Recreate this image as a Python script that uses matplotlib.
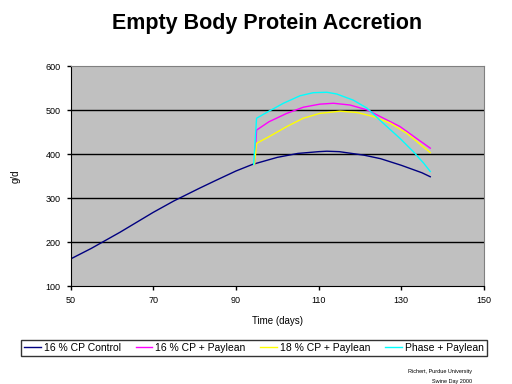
import numpy as np
import matplotlib.pyplot as plt

plt.rcParams['font.family'] = ['Liberation Sans', 'DejaVu Sans']

# control diet, whole period
ctrl_day = [50, 55, 62, 70, 75, 81, 85, 90, 94, 100, 105, 110, 112, 115, 121, 125, 130, 135, 137]
ctrl_val = [162, 186, 223, 268, 294, 322, 340, 362, 377, 393, 402, 406, 407, 406, 398, 390, 375, 358, 349]

# paylean groups, from day 94
mag_day = [94.5, 95, 98, 102.3, 106.3, 110.3, 113.6, 117.6, 121.7, 125.7, 129.7, 133.7, 137]
mag_val = [377, 455, 474, 493, 507, 514, 516, 512, 501, 482, 463, 436, 414]

yel_day = [94.5, 95, 98, 102.3, 106.3, 110.3, 115.2, 119.3, 123.2, 127.3, 131.3, 137]
yel_val = [377, 425, 440, 463, 482, 493, 498, 495, 486, 471, 448, 404]

cyan_day = [94.3, 95, 97.8, 101.5, 105.5, 108.7, 112, 114.4, 118.4, 121.7, 125.7, 129.7, 132.9, 135.4, 137]
cyan_val = [377, 482, 497, 516, 533, 540, 541, 537, 523, 505, 470, 436, 406, 380, 361]

labels = ['16 % CP Control', '16 % CP + Paylean', '18 % CP + Paylean', 'Phase + Paylean']
colors = ['#000080', '#FF00FF', '#FFFF00', '#00FFFF']

fig = plt.figure(figsize=(5.12, 3.84), dpi=100)
ax = fig.add_axes([70.5/512, 1-286.3/384, 413.5/512, 220/384])
ax.set_facecolor('#C0C0C0')

ax.plot(ctrl_day, ctrl_val, color=colors[0], lw=1, label=labels[0])
ax.plot(mag_day, mag_val, color=colors[1], lw=1, label=labels[1])
ax.plot(yel_day, yel_val, color=colors[2], lw=1, label=labels[2])
ax.plot(cyan_day, cyan_val, color=colors[3], lw=1, label=labels[3])

ax.set_xlim(50, 150)
ax.set_ylim(100, 600)
ax.set_xticks(range(50, 151, 20))
ax.set_yticks(range(100, 601, 100))
for yv in range(200, 600, 100):
    ax.axhline(yv, color='black', lw=1, zorder=0.5)
ax.tick_params(labelsize=6.5, length=3, width=1, pad=4)
ax.spines['left'].set_color('black')
ax.spines['bottom'].set_color('black')
ax.spines['top'].set_color('#808080')
ax.spines['right'].set_color('#808080')

ax.set_xlabel('Time (days)', fontsize=7, labelpad=8)
ax.set_ylabel('g/d', fontsize=7, labelpad=18)

fig.text(267/512, 1-23/384, 'Empty Body Protein Accretion', ha='center', va='center',
         fontsize=15.5, fontweight='bold')

leg = fig.legend(loc='center', bbox_to_anchor=(254/512, 1-348/384), ncol=4, fontsize=7.5,
                 frameon=True, fancybox=False, edgecolor='black', handlelength=1.6,
                 handletextpad=0.3, columnspacing=1.4, borderpad=0.3)
leg.get_frame().set_linewidth(1)

fig.text(472/512, 1-371/384, 'Richert, Purdue University', ha='right', va='center', fontsize=4)
fig.text(472/512, 1-381/384, 'Swine Day 2000', ha='right', va='center', fontsize=4)

fig.savefig('out.png', dpi=100)
